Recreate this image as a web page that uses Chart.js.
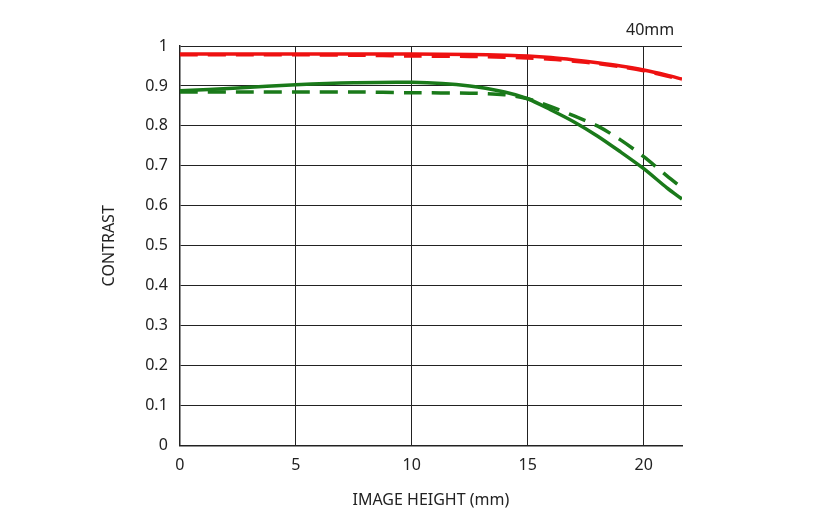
<!DOCTYPE html>
<html>
<head>
<meta charset="utf-8">
<script src="https://cdn.jsdelivr.net/npm/chart.js@4"></script>
<style>
  body { margin: 0; background: #fff; }
  #wrap { position: relative; width: 827px; height: 524px; }
  #lbl { position: absolute; left: 626px; top: 18px; font: 16px "Noto Sans", sans-serif; color: #222; }
</style>
</head>
<body>
<div id="wrap">
  <canvas id="mtf" width="827" height="524"></canvas>
  <div id="lbl">40mm</div>
</div>
<script>
const heights = [0, 2.5, 5, 7.5, 10, 12.5, 14, 15, 16, 17, 18, 19, 20, 21, 21.65];
const redSolid = [0.98, 0.98, 0.98, 0.98, 0.98, 0.979, 0.977, 0.975, 0.971, 0.965, 0.958, 0.95, 0.94, 0.927, 0.917];
const redDashed = [0.978, 0.978, 0.978, 0.977, 0.975, 0.974, 0.972, 0.97, 0.967, 0.962, 0.956, 0.948, 0.938, 0.925, 0.915];
const greenSolid = [0.888, 0.895, 0.903, 0.908, 0.909, 0.9, 0.885, 0.868, 0.84, 0.81, 0.775, 0.735, 0.693, 0.645, 0.617];
const greenDashed = [0.885, 0.885, 0.885, 0.885, 0.883, 0.882, 0.878, 0.868, 0.848, 0.825, 0.8, 0.765, 0.723, 0.675, 0.645];

const pts = arr => arr.map((v, i) => ({ x: heights[i], y: v }));
const ds = (data, color, dashed) => ({
  data: pts(data), borderColor: color, borderWidth: 3.5, pointRadius: 0,
  fill: false, tension: 0.3, borderDash: dashed ? [18, 10] : []
});

new Chart(document.getElementById('mtf').getContext('2d'), {
  type: 'line',
  data: {
    datasets: [
      ds(redSolid, '#ee1111', false),
      ds(redDashed, '#ee1111', true),
      ds(greenSolid, '#1a7a1a', false),
      ds(greenDashed, '#1a7a1a', true)
    ]
  },
  options: {
    responsive: false,
    animation: false,
    layout: { padding: { left: 96, right: 145, top: 46, bottom: 10 } },
    plugins: { legend: { display: false }, tooltip: { enabled: false } },
    scales: {
      x: {
        type: 'linear', min: 0, max: 21.65,
        afterBuildTicks: s => { s.ticks = [0, 5, 10, 15, 20].map(v => ({ value: v })); },
        grid: { color: '#222', lineWidth: 1, drawTicks: false },
        border: { color: '#222', width: 1.5 },
        ticks: { color: '#222', padding: 10, font: { size: 16, family: 'Noto Sans' } },
        title: { display: true, text: 'IMAGE HEIGHT (mm)', color: '#222', font: { size: 16, family: 'Noto Sans' }, padding: { top: 6 } }
      },
      y: {
        min: 0, max: 1,
        ticks: { stepSize: 0.1, color: '#222', padding: 12, font: { size: 16, family: 'Noto Sans' },
                 callback: v => Math.round(v * 10) / 10 },
        grid: { color: '#222', lineWidth: 1, drawTicks: false },
        border: { color: '#222', width: 1.5 },
        title: { display: true, text: 'CONTRAST', color: '#222', font: { size: 16, family: 'Noto Sans' }, padding: { bottom: 14 } }
      }
    }
  }
});
</script>
</body>
</html>
